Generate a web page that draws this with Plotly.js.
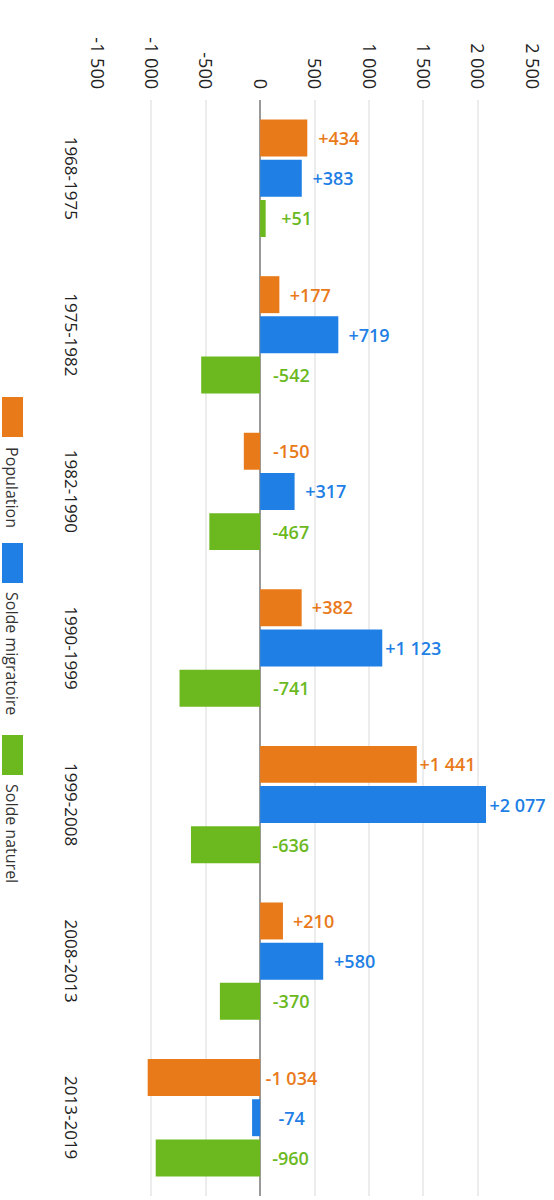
<!DOCTYPE html>
<html>
<head>
<meta charset="utf-8">
<script src="https://cdn.plot.ly/plotly-3.0.1.min.js"></script>
<style>
html, body { margin:0; padding:0; width:554px; height:1200px; overflow:hidden; background:#fff; }
#wrap { position:absolute; left:0; top:0; width:1200px; height:554px;
        transform-origin:0 0; transform:translateX(554px) rotate(90deg); }
</style>
</head>
<body>
<div id="wrap"></div>
<script>
// ---- data ----
var categories = ['1968-1975','1975-1982','1982-1990','1990-1999','1999-2008','2008-2013','2013-2019'];
var seriesNames = ['Population','Solde migratoire','Solde naturel'];
var population = [434, 177, -150, 382, 1441, 210, -1034];
var migratoire = [383, 719, 317, 1123, 2077, 580, -74];
var naturel    = [51, -542, -467, -741, -636, -370, -960];
var tickVals   = [-1500, -1000, -500, 0, 500, 1000, 1500, 2000, 2500];
var tickText   = ['-1 500','-1 000','-500','0','500','1 000','1 500','2 000','2 500'];

var colors = ['#E97A1A', '#1F7FE5', '#6BB91F'];
var series = [population, migratoire, naturel];

var W = 1200, H = 554;
var margin = {l:100, r:4, t:22, b:97};
var bargap = 0.23, bargroupgap = 0.08;
var font = '"Open Sans", "Noto Sans", sans-serif';

function fmt(v) {
  var s = Math.abs(v).toString().replace(/\B(?=(\d{3})+(?!\d))/g, ' ');
  return (v >= 0 ? '+' : '-') + s;
}

var traces = series.map(function(vals, i) {
  return {
    type: 'bar', x: categories, y: vals, name: seriesNames[i],
    marker: {color: colors[i], line: {width: 0}},
    showlegend: false, hoverinfo: 'none'
  };
});

var plotW = W - margin.l - margin.r;
var slot = plotW / categories.length * (1 - bargap) / series.length;

var annotations = [];
series.forEach(function(vals, i) {
  vals.forEach(function(v, j) {
    annotations.push({
      x: categories[j], y: Math.max(v, 0), xref: 'x', yref: 'y',
      text: fmt(v), showarrow: false, textangle: -90,
      xshift: (i - 1) * slot, yshift: 31,
      xanchor: 'center', yanchor: 'middle',
      font: {family: font, size: 18, color: colors[i], weight: 600}
    });
  });
});

// custom legend (below the plot)
var plotH = H - margin.t - margin.b;
function px2paperX(px) { return (px - margin.l) / plotW; }
function px2paperY(py) { return (H - margin.b - py) / plotH; }
var legendBoxes = [[397, 437, 445], [543, 583, 590], [735, 775, 782]];
var shapes = [];
legendBoxes.forEach(function(b, i) {
  shapes.push({
    type: 'rect', xref: 'paper', yref: 'paper',
    x0: px2paperX(b[0]), x1: px2paperX(b[1]),
    y0: px2paperY(531), y1: px2paperY(552),
    fillcolor: colors[i], line: {width: 0}
  });
  annotations.push({
    xref: 'paper', yref: 'paper', x: px2paperX(b[2]), y: px2paperY(542),
    xanchor: 'left', yanchor: 'middle', showarrow: false,
    text: seriesNames[i], font: {family: font, size: 16, color: '#333'}
  });
});

var layout = {
  width: W, height: H, margin: margin,
  paper_bgcolor: '#fff', plot_bgcolor: '#fff',
  barmode: 'group', bargap: bargap, bargroupgap: bargroupgap,
  font: {family: font, size: 17, color: '#222'},
  xaxis: {
    type: 'category', showgrid: false, zeroline: false, showline: false,
    ticks: '', ticklabelstandoff: 14,
    tickfont: {family: font, size: 17, color: '#222'}
  },
  yaxis: {
    range: [-1500, 2500], tickvals: tickVals, ticktext: tickText,
    showgrid: true, gridcolor: '#ececec', gridwidth: 2,
    zeroline: true, zerolinecolor: '#999', zerolinewidth: 2,
    showline: false, ticks: '', ticklabelstandoff: 10,
    tickfont: {family: font, size: 18, color: '#222'}
  },
  showlegend: false,
  annotations: annotations,
  shapes: shapes
};

Plotly.newPlot('wrap', traces, layout, {displayModeBar: false, staticPlot: true, responsive: false});
</script>
</body>
</html>
